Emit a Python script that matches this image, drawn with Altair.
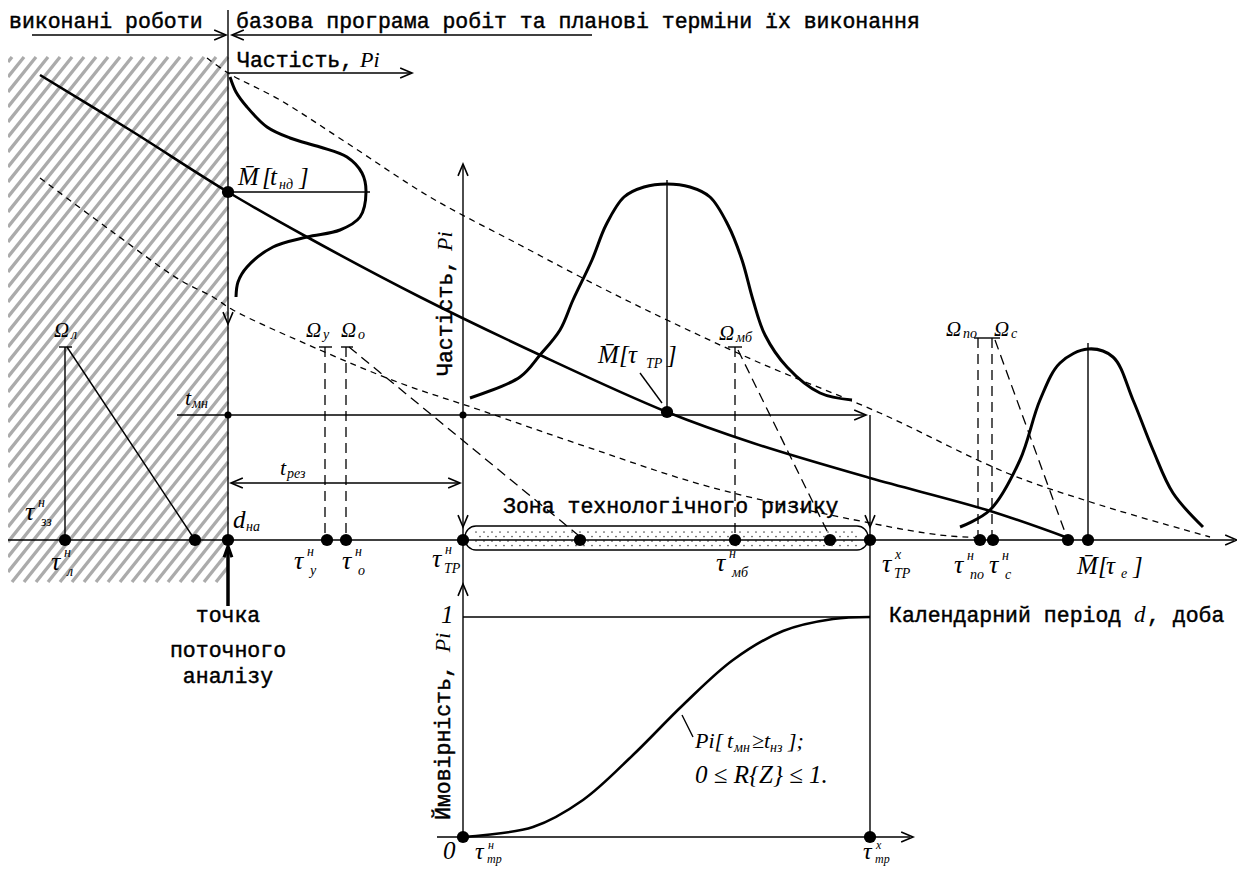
import altair as alt
import pandas as pd
import numpy as np

W, H = 1229, 860
XS = alt.Scale(domain=[8, 8 + W], nice=False, zero=False)
YS = alt.Scale(domain=[8, 8 + H], nice=False, zero=False, reverse=True)
X = lambda f="x": alt.X(f"{f}:Q", scale=XS, axis=None)
Y = lambda f="y": alt.Y(f"{f}:Q", scale=YS, axis=None)

# ---------------- data ----------------
AXIS_Y = 540
# events on the calendar axis (position along d)
event_x = [65, 195, 228, 327, 346, 463, 580, 735, 830, 870, 980, 993, 1068, 1088]

# main trend curve
trend_x = [40, 130, 228, 307, 420, 540, 667, 753, 870, 987, 1068]
trend_y = [75, 130, 192, 237, 297, 355, 412, 443, 478, 510, 538]
# upper dashed curve
up_x = [207, 228, 280, 347, 430, 520, 600, 667, 760, 880, 1007, 1100, 1210]
up_y = [58, 73, 100, 143, 197, 245, 287, 320, 363, 413, 473, 505, 537]
# lower dashed curve
lo_x = [40, 110, 180, 213, 233, 320, 400, 480, 587, 710, 870, 940, 985]
lo_y = [178, 230, 280, 297, 310, 350, 383, 410, 447, 487, 523, 535, 538]
# frequency curve at the analysis point (rotated)
b1_x = [230, 236, 247, 267, 290, 320, 347, 362, 366, 360, 340, 307, 273, 247, 238, 236]
b1_y = [77, 92, 107, 127, 138, 147, 157, 173, 192, 217, 230, 237, 247, 267, 282, 297]
# frequency curve of the technological-risk zone
b2_x = [470, 520, 540, 560, 573, 592, 606, 624, 644, 667, 690, 710, 728, 742, 753, 765, 787, 820, 852]
b2_y = [398, 377, 355, 330, 300, 260, 225, 197, 187, 184, 187, 197, 225, 260, 300, 335, 367, 393, 400]
# frequency curve of the end date
b3_x = [960, 990, 1020, 1040, 1060, 1088, 1113, 1133, 1153, 1173, 1203]
b3_y = [527, 510, 460, 400, 363, 349, 357, 400, 450, 493, 527]
# cumulative probability curve
s_x = [463, 533, 583, 633, 683, 733, 783, 833, 870]
s_y = [837, 827, 800, 755, 705, 660, 631, 619, 617]

# ---------------- geometry tables ----------------
solid = pd.DataFrame([
    (8, 540, 1234, 540), (228, 10, 228, 540), (32, 35, 225, 35), (233, 35, 592, 35),
    (228, 73, 410, 73), (228, 192, 370, 192), (177, 415, 864, 415), (232, 483, 459, 483),
    (463, 166, 463, 837), (870, 415, 870, 837), (667, 180, 667, 412), (1088, 343, 1088, 540),
    (65, 347, 65, 540), (67, 347, 195, 540), (59, 347, 72, 347), (319, 347, 332, 347),
    (341, 347, 353, 347), (728, 347, 742, 347), (974, 338, 1000, 338),
    (437, 837, 910, 837), (463, 617, 870, 617), (640, 373, 662, 403), (682, 715, 693, 737),
], columns=["x", "y", "x2", "y2"])

longdash = pd.DataFrame([
    (325, 347, 325, 540), (346, 347, 346, 540), (349, 347, 578, 535),
    (735, 347, 735, 540), (738, 350, 829, 535),
    (978, 338, 978, 540), (992, 338, 992, 540), (995, 340, 1066, 535),
], columns=["x", "y", "x2", "y2"])

def curve(name, xs, ys):
    return pd.DataFrame({"id": name, "i": range(len(xs)), "x": xs, "y": ys})

thick = pd.concat([curve("trend", trend_x, trend_y), curve("s", s_x, s_y)])
bells = pd.concat([curve("b1", b1_x, b1_y), curve("b2", b2_x, b2_y), curve("b3", b3_x, b3_y)])
dashed = pd.concat([curve("up", up_x, up_y), curve("lo", lo_x, lo_y)])

# hatch of completed works (texture)
hx0, hx1, hy0, hy1, k = 8, 228, 57, 582, 1.25
hatch = []
for c in np.arange(k * hx0 + hy0 - 10, k * hx1 + hy1, 15.0):
    xa = max(hx0, (c - hy1) / k)
    xb = min(hx1, (c - hy0) / k)
    if xb > xa:
        hatch.append((xa, c - k * xa, xb, c - k * xb))
hatch = pd.DataFrame(hatch, columns=["x", "y", "x2", "y2"])

# stipple of risk zone (texture)
dots = []
for r, yy in enumerate(np.arange(532, 546, 4.5)):
    for xx in np.arange(476 + (r % 2) * 4, 860, 8.0):
        dots.append((xx, yy))
stip = pd.DataFrame(dots, columns=["x", "y"])

big = pd.DataFrame({"x": event_x + [228, 667, 463, 870], "y": [AXIS_Y] * len(event_x) + [192, 412, 837, 837]})
small = pd.DataFrame({"x": [228, 463], "y": [415, 415]})

arrows = pd.DataFrame([
    (226, 35, 0), (232, 35, 180), (412, 73, 0), (228, 324, 90), (463, 164, 270),
    (866, 415, 0), (463, 527, 90), (870, 527, 90), (231, 483, 180), (460, 483, 0),
    (1237, 540, 0), (463, 584, 270), (913, 837, 0),
], columns=["x", "y", "a"])
thick_arrow = pd.DataFrame([(228, 546, 270)], columns=["x", "y", "a"])

# ---------------- texts ----------------
FS = 21.5            # main text size (monospaced slab serif)
CW = 0.6 * FS        # advance of one character
normal_left = pd.DataFrame([
    ("виконані роботи", 9, 28),
    ("базова програма робіт та планові терміни їх виконання", 236, 28),
    ("Частість,", 237, 67),
    ("Зона технологічного ризику", 503, 513),
    ("Календарний період", 889, 622),
    (", доба", 889 + 20 * CW, 622),
], columns=["t", "x", "y"])
normal_center = pd.DataFrame([("точка", 228, 622), ("поточного", 228, 657), ("аналізу", 228, 683)],
                             columns=["t", "x", "y"])
rot_normal = pd.DataFrame([("Частість,", 452, 376), ("Ймовірність,", 450, 820)], columns=["t", "x", "y"])
rot_italic = pd.DataFrame([("Pi", 452, 376 - 10 * CW + 4), ("Pi", 450, 820 - 13 * CW)], columns=["t", "x", "y"])

BIG, SUB, TAU = 25, 14, 26
italic = [
    ("Pi", 237 + 10 * CW - 6, 67, 22), ("d", 889 + 19 * CW, 622, 23),
    ("M\u0304", 238, 185, BIG), ("[", 262, 185, BIG), ("t", 270, 185, BIG), ("нд", 279, 189, SUB), ("]", 299, 185, BIG),
    ("M\u0304", 598, 363, BIG), ("[", 619, 363, BIG), ("τ", 628, 363, BIG), ("ТР", 646, 368, SUB), ("]", 667, 363, BIG),
    ("M\u0304", 1077, 574, BIG), ("[", 1098, 574, BIG), ("τ", 1106, 574, BIG), ("е", 1121, 578, SUB), ("]", 1133, 574, BIG),
    ("Ω", 54, 337, 21), ("л", 71, 339, SUB),
    ("Ω", 306, 337, 21), ("у", 323, 339, SUB),
    ("Ω", 341, 337, 21), ("о", 358, 339, SUB),
    ("Ω", 719, 340, 21), ("мб", 736, 342, SUB),
    ("Ω", 946, 336, 21), ("по", 963, 338, SUB),
    ("Ω", 994, 336, 21), ("с", 1011, 338, SUB),
    ("t", 185, 405, 22), ("мн", 192, 408, SUB),
    ("t", 280, 475, 22), ("рез", 287, 478, SUB),
    ("d", 233, 528, BIG), ("на", 246, 531, SUB),
    ("Pi[", 695, 748, 22), ("t", 727, 748, 22), ("мн", 734, 752, SUB), ("≥", 752, 748, 22),
    ("t", 764, 748, 22), ("нз", 770, 752, SUB), ("];", 788, 748, 22),
    ("0 ≤ R{Z} ≤ 1.", 695, 783, 25),
    ("1", 441, 623, BIG), ("0", 443, 859, BIG),
]
taus = [  # (x of tau, baseline, superscript, subscript, stacked)
    (25, 520, "н", "зз", False), (51, 570, "н", "л", False), (294, 569, "н", "у", False),
    (342, 569, "н", "о", False), (432, 567, "н", "ТР", True), (716, 571, "н", "мб", False),
    (882, 572, "х", "ТР", True), (954, 573, "н", "по", False), (989, 573, "н", "с", False),
]
for tx, ty, sup, sub, st in taus:
    italic.append(("τ", tx, ty, TAU))
    italic.append((sup, tx + 13, ty - 13, SUB))
    italic.append((sub, tx + (12 if st else 16), ty + 6, SUB))
# the two labels under the probability axis, squeezed above the lower edge
for tx, sup in [(475, "н"), (863, "х")]:
    italic.append(("τ", tx, 859, 24))
    italic.append((sup, tx + 13, 849, 12))
    italic.append(("тр", tx + 12, 863, 12))
italic = pd.DataFrame(italic, columns=["t", "x", "y", "s"])

# ---------------- layers ----------------
MONO = "Liberation Mono"
MATH = "Liberation Serif"
TXT = dict(color="black", stroke="black", strokeWidth=0.45)

def rules(df, color="black", **kw):
    return alt.Chart(df).mark_rule(color=color, **kw).encode(x=X(), y=Y(), x2="x2:Q", y2="y2:Q")

def lines(df, **kw):
    return alt.Chart(df).mark_line(color="black", interpolate="catmull-rom", **kw).encode(
        x=X(), y=Y(), detail="id:N", order="i:Q")

zone = alt.Chart(pd.DataFrame({"x": [465], "x2": [868], "y": [526], "y2": [550]})).mark_rect(
    fill="white", stroke="black", strokeWidth=1.3, cornerRadius=11).encode(x=X(), x2="x2:Q", y=Y(), y2="y2:Q")

layers = [
    rules(hatch, color="#ababab", strokeWidth=3.3),
    zone,
    alt.Chart(stip).mark_circle(color="#555", size=3, opacity=1).encode(x=X(), y=Y()),
    rules(solid, strokeWidth=1.4),
    rules(pd.DataFrame([(228, 548, 228, 606)], columns=["x", "y", "x2", "y2"]), strokeWidth=3.5),
    rules(longdash, strokeWidth=1.3, strokeDash=[10, 6]),
    lines(dashed, strokeWidth=1.3, strokeDash=[6, 5]),
    lines(thick, strokeWidth=2.6),
    lines(bells, strokeWidth=3),
    alt.Chart(big).mark_circle(color="black", size=150, opacity=1).encode(x=X(), y=Y()),
    alt.Chart(small).mark_circle(color="black", size=50, opacity=1).encode(x=X(), y=Y()),
    alt.Chart(arrows).mark_point(shape="M -1 -0.42 L 0 0 L -1 0.42", filled=False, color="black",
                                 strokeWidth=1.6, size=560, opacity=1).encode(
        x=X(), y=Y(), angle=alt.Angle("a:Q", scale=None)),
    alt.Chart(thick_arrow).mark_point(shape="M -1 -0.35 L 0 0 L -1 0.35", filled=False, color="black",
                                      strokeWidth=3, size=500, opacity=1).encode(
        x=X(), y=Y(), angle=alt.Angle("a:Q", scale=None)),
    alt.Chart(normal_left).mark_text(font=MONO, fontSize=FS, align="left", baseline="alphabetic",
                                     **TXT).encode(x=X(), y=Y(), text="t:N"),
    alt.Chart(normal_center).mark_text(font=MONO, fontSize=FS, align="center", baseline="alphabetic",
                                       **TXT).encode(x=X(), y=Y(), text="t:N"),
    alt.Chart(rot_normal).mark_text(font=MONO, fontSize=FS, align="left", baseline="alphabetic",
                                    angle=270, **TXT).encode(x=X(), y=Y(), text="t:N"),
    alt.Chart(rot_italic).mark_text(font=MATH, fontStyle="italic", fontSize=22, align="left",
                                    baseline="alphabetic", angle=270, color="black").encode(
        x=X(), y=Y(), text="t:N"),
    alt.Chart(italic).mark_text(font=MATH, fontStyle="italic", align="left", baseline="alphabetic",
                                color="black").encode(x=X(), y=Y(), text="t:N",
                                                      size=alt.Size("s:Q", scale=None)),
]

chart = alt.layer(*layers).properties(
    width=W, height=H, padding=0, autosize=alt.AutoSizeParams(type="none"), background="white"
).configure_view(stroke=None)

chart.save("out.html", embed_options={"renderer": "svg", "actions": False})
